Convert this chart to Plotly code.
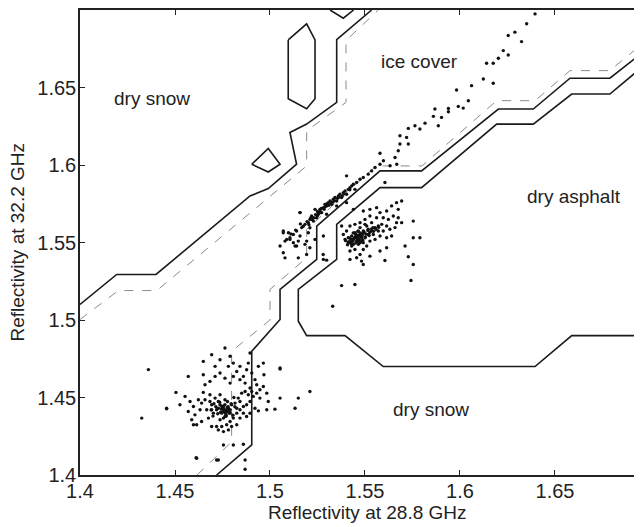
import plotly.graph_objects as go

# ---------------- scatter data ----------------
low_x = [1.436,1.4325,1.4456,1.4505,1.4526,1.4553,1.4579,1.457,1.4597,1.4605,1.4588,1.4632,1.464,1.4614,1.4597,
         1.4649,1.4658,1.4684,1.4693,1.4702,1.4711,1.4719,1.4728,1.4737,1.4746,1.4755,1.4763,1.4772,1.4781,1.4769,
         1.4755,1.4737,1.4719,1.4746,1.4772,1.479,1.4807,1.4825,1.4842,1.486,1.4877,1.4895,1.4912,1.493,1.4947,
         1.4965,1.4983,1.4991,1.4947,1.4921,1.4895,1.4877,1.4842,1.4825,1.4798,1.4781,1.4755,1.4728,1.4693,1.4676,
         1.4667,1.464,1.4623,1.4649,1.4693,1.4711,1.4737,1.4763,1.479,1.4781,1.4807,1.4825,1.4842,1.486,1.4877,
         1.4886,1.4904,1.4921,1.4939,1.4965,1.4968,1.493,1.4895,1.4869,1.4842,1.4807,1.479,1.4763,1.4737,1.4711,
         1.4684,1.4658,1.4649,1.457,1.4895,1.5053,1.5053,1.5132,1.5149,1.5026,1.4983,1.4939,1.4755,1.4807,1.486,
         1.4611,1.4728,1.4869,1.4869,1.4684,1.4693,1.4728,1.4746,1.4763,1.4776,1.4786,1.4798,1.4816,1.4833,1.4851,
         1.4869,1.4886,1.4904,1.4842,1.4825,1.486,1.4737,1.4755,1.4763,1.4776,1.479,1.476,1.477,1.478,1.475,1.4765,
         1.4775,1.4745,1.4785,1.477,1.4755,1.479,1.474,1.4456,1.5053,1.521,1.4614,1.4719,
         1.4705,1.4715,1.4725,1.4735,1.4795,1.4805,1.4815,1.4690,1.4700,1.4810]
low_y = [1.468,1.4367,1.4427,1.4533,1.4453,1.4507,1.4474,1.441,1.4442,1.4388,1.4356,1.4421,1.4345,1.4324,1.4324,
         1.4533,1.4485,1.4518,1.4453,1.4399,1.4496,1.4421,1.4474,1.4518,1.4442,1.441,1.4453,1.4421,1.4431,1.4388,
         1.4367,1.4356,1.4313,1.4313,1.4324,1.4345,1.4367,1.4399,1.4421,1.4442,1.4453,1.4474,1.4507,1.4528,1.455,
         1.4571,1.4528,1.4474,1.4496,1.4431,1.4399,1.4377,1.4367,1.4324,1.4313,1.4291,1.428,1.4291,1.4313,1.4367,
         1.4421,1.4464,1.4485,1.4733,1.4776,1.4701,1.4744,1.4819,1.4766,1.4701,1.4722,1.4668,1.4701,1.4636,1.4679,
         1.4722,1.4658,1.4615,1.4701,1.4722,1.4647,1.4582,1.4561,1.4593,1.4615,1.4636,1.4593,1.4625,1.4658,1.4636,
         1.4604,1.4582,1.4647,1.4636,1.4787,1.4684,1.4496,1.4431,1.4496,1.4425,1.4421,1.4414,1.4194,1.4194,1.4198,
         1.4112,1.4097,1.4097,1.4037,1.4474,1.4421,1.4431,1.4399,1.4485,1.4474,1.4399,1.4453,1.4464,1.4496,1.4528,
         1.4539,1.4518,1.4539,1.4474,1.4431,1.4399,1.4453,1.4431,1.4377,1.441,1.4421,1.442,1.441,1.444,1.443,1.440,
         1.4435,1.4425,1.4415,1.438,1.4445,1.440,1.4405,1.4431,1.469,1.4539,1.4108,1.4097,
         1.4460,1.4440,1.4395,1.4470,1.4460,1.4385,1.4440,1.4420,1.4380,1.4500]

mid_x = [1.5491,1.5526,1.5561,1.5579,1.5614,1.564,1.5666,1.5649,1.5675,1.5693,1.5596,1.5561,1.5526,1.55,1.5474,
         1.5447,1.5421,1.5403,1.5386,1.5395,1.5412,1.543,1.5421,1.5447,1.5465,1.5482,1.55,1.5517,1.5535,1.5553,
         1.557,1.5588,1.5614,1.5631,1.5658,1.5579,1.5553,1.5526,1.5509,1.5491,1.5474,1.5456,1.5439,1.5456,1.5474,
         1.5491,1.5465,1.5447,1.5482,1.543,1.5412,1.5509,1.5535,1.55,1.5474,1.5456,1.5439,1.5474,1.5491,1.5517,
         1.5544,1.557,1.5596,1.5614,1.564,1.5666,1.5675,1.5623,1.5421,1.5482,1.5526,1.5579,1.5614,1.5377,
         1.5456,1.5465,1.5447,1.5474,1.544,1.546,1.548,1.545,1.543,1.547,1.549,1.542,
         1.5377,1.5447,1.533,1.5491,1.5605,1.5298,1.528,1.5728,1.5754,1.5742,1.5693,1.5754,1.5754,1.5789,1.5711,
         1.5415,1.5425,1.5435,1.5445,1.5455,1.5465,1.5475,1.5485,1.5495,1.5505,1.5515,1.5525,1.5535,1.5545,
         1.5408,1.5428,1.5452,1.5468,1.5488,1.5502,1.5522,1.5542,1.5558,1.5572,1.5398,1.5418,1.5438,1.5462]
mid_y = [1.5703,1.5714,1.5725,1.5693,1.5703,1.5736,1.5757,1.5671,1.566,1.5628,1.566,1.566,1.5671,1.5649,1.5628,
         1.5617,1.5606,1.5574,1.5552,1.552,1.5499,1.5477,1.5445,1.5455,1.5488,1.5509,1.5531,1.5552,1.5574,1.5596,
         1.5606,1.5617,1.5606,1.5585,1.5596,1.5542,1.552,1.5509,1.5477,1.5455,1.5423,1.5402,1.552,1.5542,1.5552,
         1.5574,1.5574,1.5563,1.5531,1.5542,1.5531,1.5606,1.5628,1.5617,1.5596,1.5509,1.5488,1.5499,1.5499,1.5585,
         1.5552,1.5574,1.5574,1.5531,1.5542,1.5628,1.5714,1.5649,1.5391,1.538,1.5412,1.5445,1.5466,1.5606,
         1.553,1.5545,1.5535,1.554,1.5525,1.5515,1.555,1.5555,1.5515,1.552,1.556,1.55,
         1.5222,1.5229,1.5089,1.5358,1.5384,1.5386,1.5423,1.5408,1.5358,1.5255,1.5768,1.5638,1.5531,1.5531,1.5477,
         1.5505,1.5522,1.5508,1.5528,1.5548,1.5538,1.5562,1.5545,1.5568,1.5555,1.5578,1.5565,1.5588,1.5572,
         1.5485,1.5492,1.5498,1.5505,1.5515,1.5535,1.5545,1.5595,1.5585,1.5598,1.5512,1.5530,1.5562,1.5572]

ice_x = [1.507,1.5088,1.5105,1.5123,1.514,1.5132,1.5149,1.5158,1.5167,1.5184,1.5202,1.521,1.5219,1.5228,1.5245,
         1.5254,1.5263,1.5272,1.5281,1.5289,1.5298,1.5307,1.5316,1.5325,1.5333,1.5342,1.5351,1.536,1.5368,1.5377,
         1.5386,1.5395,1.5403,1.5412,1.5421,1.543,1.5439,1.5447,1.5456,1.5474,1.5491,1.5517,1.5535,1.5553,1.5579,
         1.5403,1.5158,1.5237,1.5298,1.5351,1.5403,1.5439,1.5281,1.5193,1.5281,1.5184,1.5237,
         1.53,1.532,1.527,1.525,1.534,1.536,1.529,1.531,1.523,1.522,1.538,1.526,
         1.507,1.5097,1.5079,1.5105,1.5053,1.507,1.5079,1.5123,1.514,1.5149,1.5158,1.5202,1.5193,1.521,1.521,1.5219,
         1.6254,1.6289,1.6324,1.6228,1.6254,1.6202,1.614,1.6175,1.6123,1.6175,1.6061,1.5982,1.6044,1.5991,1.6017,
         1.5939,1.5939,1.5868,1.586,1.5903,1.5886,1.5816,1.5763,1.5789,1.5728,1.5684,1.5719,1.5728,1.5684,1.5675,
         1.5658,1.5667,1.5632,1.5597,1.5579,1.5605,1.6395,1.6351,
         1.5175,1.5195,1.5215,1.5240,1.5265,1.5285,1.5330,1.5355,1.5390,1.5420,1.5135,1.5110,1.5160,1.5205,1.5250]
ice_y = [1.5574,1.552,1.5531,1.5552,1.5574,1.5477,1.5509,1.5542,1.5596,1.5617,1.5628,1.5649,1.5671,1.5639,1.566,
         1.5682,1.5714,1.5693,1.5725,1.5746,1.5736,1.5757,1.5768,1.5746,1.5779,1.579,1.5768,1.58,1.5811,1.579,
         1.5822,1.5833,1.5811,1.5843,1.5854,1.5865,1.5876,1.5843,1.5887,1.5908,1.5919,1.5941,1.5962,1.5984,1.6005,
         1.593,1.5693,1.5714,1.5682,1.5736,1.5757,1.5714,1.5542,1.5423,1.5391,1.5488,1.552,
         1.575,1.576,1.572,1.570,1.577,1.579,1.573,1.574,1.566,1.565,1.580,1.569,
         1.5563,1.5563,1.5509,1.552,1.5477,1.5434,1.5401,1.5499,1.5477,1.5401,1.5693,1.5563,1.5509,1.5466,1.5595,1.5649,
         1.6835,1.6857,1.6796,1.6738,1.671,1.6689,1.6656,1.6656,1.6555,1.6527,1.6512,1.6484,1.6415,1.6378,1.6367,
         1.6365,1.6344,1.6361,1.6314,1.6307,1.6253,1.627,1.6253,1.6232,1.6236,1.6189,1.6178,1.6135,1.6135,1.6092,
         1.6048,1.6005,1.5995,1.6027,1.6076,1.5887,1.6975,1.6911,
         1.5605,1.5635,1.5660,1.5680,1.5700,1.5715,1.5760,1.5785,1.5815,1.5840,1.5580,1.5555,1.5620,1.5615,1.5672]

# ---------------- decision boundaries (solid) ----------------
bnd_a_x = [1.40, 1.4193, 1.44, 1.4895, 1.4991, 1.514, 1.5105, 1.5193, 1.5351, 1.5351, 1.5535]
bnd_a_y = [1.51, 1.5294, 1.5294, 1.58, 1.5848, 1.6005, 1.621, 1.6264, 1.6404, 1.6809, 1.70]

bnd_d_x = [1.4719, 1.4904, 1.4904, 1.5053, 1.5053, 1.5246, 1.5246, 1.5579, 1.5798, 1.6202, 1.6386, 1.6579, 1.6789, 1.6958]
bnd_d_y = [1.40, 1.4194, 1.4798, 1.5003, 1.5197, 1.5391, 1.5606, 1.5962, 1.5962, 1.6361, 1.6361, 1.656, 1.656, 1.6723]

bnd_e_x = [1.6958, 1.6789, 1.6588, 1.6386, 1.6193, 1.5798, 1.5579, 1.5351, 1.5351, 1.5149, 1.5149, 1.5193,
           1.5395, 1.5596, 1.6395, 1.6588, 1.6958]
bnd_e_y = [1.6631, 1.6458, 1.6458, 1.6264, 1.6264, 1.5854, 1.5854, 1.5617, 1.5391, 1.5197, 1.4992, 1.4899,
           1.4899, 1.47, 1.47, 1.4899, 1.4899]

isl1_x = [1.5096, 1.5193, 1.5237, 1.5237, 1.5193, 1.5096, 1.5096]
isl1_y = [1.6807, 1.6911, 1.6807, 1.6427, 1.6363, 1.6427, 1.6807]
isl2_x = [1.4904, 1.4991, 1.5053, 1.4991, 1.4904]
isl2_y = [1.6005, 1.6107, 1.6005, 1.5955, 1.6005]
isl3_x = [1.5316, 1.5386, 1.544]
isl3_y = [1.70, 1.6947, 1.70]

# ---------------- secondary boundaries (dashed grey) ----------------
bnd_b_x = [1.40, 1.4202, 1.4404, 1.5193, 1.5193, 1.54, 1.54, 1.557]
bnd_b_y = [1.5003, 1.519, 1.519, 1.5994, 1.6221, 1.6404, 1.6803, 1.70]

bnd_c_x = [1.4616, 1.4798, 1.4798, 1.50, 1.50, 1.5193, 1.5193, 1.5558, 1.58, 1.6193, 1.6395, 1.6579, 1.6789, 1.6958]
bnd_c_y = [1.40, 1.4213, 1.4798, 1.50, 1.5197, 1.5402, 1.5585, 1.5994, 1.5994, 1.6415, 1.6415, 1.6609, 1.6609, 1.678]

labels = ["dry snow", "ice cover", "dry asphalt", "dry snow"]
label_x = [1.4379, 1.5789, 1.66, 1.5847]
label_y = [1.6426, 1.667, 1.58, 1.4425]

x_ticks = [1.4, 1.45, 1.5, 1.55, 1.6, 1.65]
y_ticks = [1.4, 1.45, 1.5, 1.55, 1.6, 1.65]
x_title = "Reflectivity at 28.8 GHz"
y_title = "Reflectivity at 32.2 GHz"

FONT = "Arial, Liberation Sans, sans-serif"
INK = "#222222"

fig = go.Figure()

for xs, ys in [(bnd_b_x, bnd_b_y), (bnd_c_x, bnd_c_y)]:
    fig.add_trace(go.Scatter(x=xs, y=ys, mode="lines",
                             line=dict(color="#8a8a8a", width=1, dash="dash"),
                             hoverinfo="skip", showlegend=False))

for xs, ys in [(bnd_a_x, bnd_a_y), (bnd_d_x, bnd_d_y), (bnd_e_x, bnd_e_y),
               (isl1_x, isl1_y), (isl2_x, isl2_y), (isl3_x, isl3_y)]:
    fig.add_trace(go.Scatter(x=xs, y=ys, mode="lines",
                             line=dict(color="#1a1a1a", width=1.6),
                             hoverinfo="skip", showlegend=False))

for xs, ys in [(low_x, low_y), (mid_x, mid_y), (ice_x, ice_y)]:
    fig.add_trace(go.Scatter(x=xs, y=ys, mode="markers",
                             marker=dict(color="#111111", size=3.4),
                             showlegend=False))

for t, x, y in zip(labels, label_x, label_y):
    fig.add_annotation(x=x, y=y, text=t, showarrow=False,
                       font=dict(family=FONT, size=19, color=INK))

# axis titles placed as annotations for exact positioning
fig.add_annotation(xref="paper", yref="paper", x=0.5107, y=0, yanchor="middle",
                   yshift=-37, text=x_title, showarrow=False,
                   font=dict(family=FONT, size=19, color=INK))
fig.add_annotation(xref="paper", yref="paper", x=0, y=0.5, xanchor="center",
                   xshift=-63, text=y_title, textangle=-90, showarrow=False,
                   font=dict(family=FONT, size=19, color=INK))

# the page body adds an 8px offset, so the figure is 8px smaller on each axis
fig.update_layout(
    width=634, height=519,
    margin=dict(l=72, r=0, t=2, b=52, autoexpand=False),
    paper_bgcolor="white", plot_bgcolor="white",
    font=dict(family=FONT, size=19, color=INK),
)
fig.update_xaxes(range=[1.4, 1.6958], tickvals=x_ticks, ticktext=[str(v) for v in x_ticks],
                 ticks="inside", ticklen=5, tickcolor=INK, automargin=False,
                 showline=True, linecolor=INK, linewidth=1.5, mirror="ticks",
                 showgrid=False, zeroline=False, ticklabelstandoff=-3,
                 tickfont=dict(family=FONT, size=20))
fig.update_yaxes(range=[1.4, 1.7], tickvals=y_ticks, ticktext=[str(v) for v in y_ticks],
                 ticks="inside", ticklen=5, tickcolor=INK, automargin=False,
                 showline=True, linecolor=INK, linewidth=1.5, mirror=False,
                 showgrid=False, zeroline=False, ticklabelstandoff=-2,
                 tickfont=dict(family=FONT, size=20))

fig.write_html("out.html")
